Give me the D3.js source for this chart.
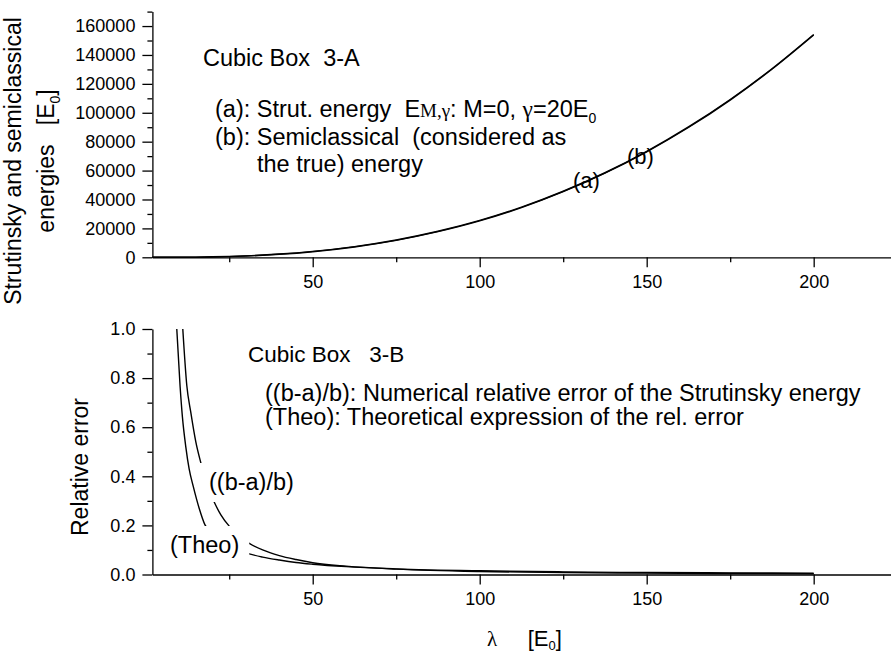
<!DOCTYPE html>

<head>
    <meta charset="utf-8">
    <title>Cubic Box 3-A / 3-B</title>
    <script type="text/javascript" src="https://d3js.org/d3.v7.min.js"></script>
    <style>
        body { margin: 0; background: #fff; }
        svg text { font-family: "Liberation Sans", Arial, sans-serif; fill: #000; white-space: pre; }
        svg .serif { font-family: "Liberation Serif", "Times New Roman", serif; }
        .axis path, .axis line { stroke: #000; stroke-width: 1.3; }
        .curve { fill: none; stroke: #000; stroke-width: 1.4; }
    </style>
</head>

<body>
    <div id="container"></div>
    <script>
        //------------------------1. DATA------------------------//
        // top panel: energies vs lambda
        var lambdaTop = [2, 5, 10, 15, 20, 25, 30, 40, 50, 62.5, 75, 87.5, 100, 112.5, 125, 137.5, 150, 162.5, 175, 187.5, 200];
        var semiclassical = [0, 3, 40, 140, 330, 610, 1020, 2240, 4080, 7400, 12000, 18000, 25500, 34700, 45700, 58500, 73300, 90200, 109200, 130500, 154200];
        var strutinsky = [0, 0, 10, 60, 230, 490, 880, 2070, 3880, 7160, 11740, 17740, 25200, 34400, 45400, 58200, 73000, 89800, 108800, 130100, 153800];

        // bottom panel: relative errors vs lambda
        var lambdaErr = [11.1, 12.3, 13.5, 15, 16.6, 18.5, 20.5, 22.5, 25, 28, 31, 35, 40, 45, 50, 60, 75, 100, 125, 150, 175, 200];
        var relErr = [1.0, 0.77, 0.66, 0.54, 0.45, 0.36, 0.295, 0.243, 0.197, 0.157, 0.127, 0.1, 0.077, 0.061, 0.048, 0.034, 0.022, 0.012, 0.008, 0.0055, 0.004, 0.003];
        var lambdaTheo = [9.3, 10.3, 11, 12, 13, 14.25, 16, 17.75, 20, 22.5, 25, 28, 31, 35, 40, 45, 50, 60, 75, 100, 125, 150, 175, 200];
        var theoErr = [1.0, 0.765, 0.64, 0.52, 0.43, 0.358, 0.27, 0.202, 0.166, 0.138, 0.117, 0.098, 0.084, 0.071, 0.059, 0.049, 0.042, 0.032, 0.023, 0.015, 0.0107, 0.008, 0.0065, 0.0053];

        // ticks
        var lambdaTicks = [50, 100, 150, 200];
        var lambdaMinor = [25, 75, 125, 175];
        var energyTicks = [0, 20000, 40000, 60000, 80000, 100000, 120000, 140000, 160000];
        var energyMinor = [10000, 30000, 50000, 70000, 90000, 110000, 130000, 150000, 170000];
        var errTicks = [0, 0.2, 0.4, 0.6, 0.8, 1.0];
        var errMinor = [0.1, 0.3, 0.5, 0.7, 0.9];

        //------------------------2. SCALES------------------------//
        var W = 891, H = 652;
        var svg = d3.select("div#container").append("svg")
            .attr("width", W).attr("height", H);

        var x = d3.scaleLinear().domain([2, 223]).range([152.4, 890.5]);
        var yTop = d3.scaleLinear().domain([0, 170000]).range([257.3, 11.6]);
        var yBot = d3.scaleLinear().domain([0, 1]).range([574.5, 329]);

        //------------------------3. AXES------------------------//
        function drawAxes(yScale, yTicks, yMinor, yFmt) {
            // x axis
            svg.append("g").attr("class", "axis")
                .attr("transform", "translate(0," + yScale.range()[0] + ")")
                .call(d3.axisBottom(x).tickValues(lambdaTicks).tickSize(10).tickSizeOuter(0).tickPadding(8))
                .call(function (g) { g.selectAll("text").style("font-size", "18px"); });
            svg.append("g").attr("class", "axis")
                .attr("transform", "translate(0," + yScale.range()[0] + ")")
                .call(d3.axisBottom(x).tickValues(lambdaMinor).tickSize(5).tickFormat(""))
                .call(function (g) { g.select(".domain").remove(); });

            // y axis
            svg.append("g").attr("class", "axis")
                .attr("transform", "translate(" + x.range()[0] + ",0)")
                .call(d3.axisLeft(yScale).tickValues(yTicks).tickSize(10).tickSizeOuter(0).tickPadding(7).tickFormat(yFmt))
                .call(function (g) { g.selectAll("text").style("font-size", "18px"); });
            svg.append("g").attr("class", "axis")
                .attr("transform", "translate(" + x.range()[0] + ",0)")
                .call(d3.axisLeft(yScale).tickValues(yMinor).tickSize(5).tickFormat(""))
                .call(function (g) { g.select(".domain").remove(); });
        }

        drawAxes(yTop, energyTicks, energyMinor, d3.format("d"));
        drawAxes(yBot, errTicks, errMinor, d3.format(".1f"));

        //------------------------4. CURVES------------------------//
        function curve(xs, ys, yScale) {
            var line = d3.line()
                .x(function (d) { return x(d[0]); })
                .y(function (d) { return yScale(d[1]); })
                .curve(d3.curveMonotoneX);
            svg.append("path")
                .attr("class", "curve")
                .attr("d", line(d3.zip(xs, ys)));
        }

        curve(lambdaTop, semiclassical, yTop);
        curve(lambdaTop, strutinsky, yTop);
        curve(lambdaErr, relErr, yBot);
        curve(lambdaTheo, theoErr, yBot);

        //------------------------5. TEXT------------------------//
        function label(px, py, size, str) {
            return svg.append("text").attr("x", px).attr("y", py)
                .style("font-size", size + "px").text(str);
        }
        function sub(t, str, size, shift) {
            t.append("tspan").attr("dy", shift).style("font-size", size + "px").text(str);
            return t;
        }

        // top panel text
        label(203, 66, 23.5, "Cubic Box  3-A");
        var la = label(215, 117, 23.5, "(a): Strut. energy  E");
        la.append("tspan").attr("class", "serif").style("font-size", "19px").text("M,\u03b3");
        la.append("tspan").text(": M=0, ");
        la.append("tspan").attr("class", "serif").text("\u03b3");
        la.append("tspan").text("=20E");
        sub(la, "0", 14, 6);
        label(215, 145, 23.5, "(b): Semiclassical  (considered as");
        label(257, 172, 23.5, "the true) energy");
        label(573, 188, 22, "(a)");
        label(627, 164, 22, "(b)");

        // bottom panel text
        label(248, 362, 22.5, "Cubic Box   3-B");
        label(265, 401, 23.5, "((b-a)/b): Numerical relative error of the Strutinsky energy");
        label(265, 425, 23.5, "(Theo): Theoretical expression of the rel. error");

        // labels on the curves, with white boxes over the lines
        function boxed(px, py, str, pad) {
            var g = svg.append("g");
            var t = g.append("text").attr("x", px).attr("y", py)
                .style("font-size", "23.5px").text(str);
            var b = t.node().getBBox();
            g.insert("rect", "text")
                .attr("x", b.x - pad.l).attr("y", b.y - pad.t)
                .attr("width", b.width + pad.l + pad.r)
                .attr("height", b.height + pad.t + pad.b)
                .attr("fill", "#fff");
        }
        boxed(209, 490, "((b-a)/b)", { l: 10, r: 10, t: 6, b: 7 });
        boxed(170, 553, "(Theo)", { l: 10, r: 10, t: 6, b: 7 });

        // axis titles
        var yt = svg.append("g").attr("transform", "translate(0,161) rotate(-90)");
        yt.append("text").attr("x", 0).attr("y", 21).attr("text-anchor", "middle")
            .style("font-size", "23px").text("Strutinsky and semiclassical");
        var yt2 = yt.append("text").attr("x", 0).attr("y", 54).attr("text-anchor", "middle")
            .style("font-size", "23px").text("energies   [E");
        sub(yt2, "0", 14, 6);
        yt2.append("tspan").attr("dy", -6).text("]");

        svg.append("text")
            .attr("transform", "translate(88,467) rotate(-90)")
            .attr("text-anchor", "middle")
            .style("font-size", "23px").text("Relative error");

        var xt = svg.append("text").attr("x", 487).attr("y", 646).style("font-size", "22px");
        xt.append("tspan").attr("class", "serif").style("font-size", "21px").text("\u03bb");
        xt.append("tspan").text("     [E");
        sub(xt, "0", 13, 4);
        xt.append("tspan").attr("dy", -4).text("]");
    </script>
</body>
